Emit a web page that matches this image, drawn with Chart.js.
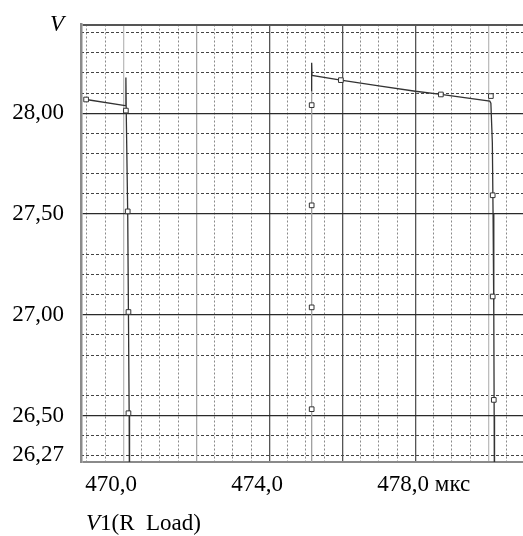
<!DOCTYPE html>
<html><head><meta charset="utf-8">
<script src="https://cdn.jsdelivr.net/npm/chart.js@4/dist/chart.umd.min.js"></script>
<style>html,body{margin:0;padding:0;background:#fff;overflow:hidden}canvas{display:block}</style>
</head><body>
<canvas id="c" width="523" height="536"></canvas>
<script>
// ---- data ----
const xMin = 468.84, xMax = 480.95;
const yMin = 26.27, yMax = 28.44;

const traceAX = [468.98, 470.05, 470.07, 470.08, 470.12, 470.14, 470.16, 470.17];
const traceAY = [28.068, 28.038, 28.177, 28.0, 27.5, 27.0, 26.5, 25.9];

const traceBX = [475.16, 475.16, 475.16, 475.17, 475.96, 477.0, 478.0, 478.70, 480.04, 480.07, 480.11, 480.13, 480.15, 480.16, 480.17];
const traceBY = [25.9, 28.108, 28.25, 28.187, 28.164, 28.136, 28.109, 28.093, 28.06, 28.05, 27.854, 27.5, 27.0, 26.5, 25.9];

const markerX = [468.98, 470.07, 470.12, 470.14, 470.14, 475.16, 475.16, 475.16, 475.16, 475.96, 478.70, 480.07, 480.12, 480.12, 480.15];
const markerY = [28.068, 28.013, 27.513, 27.014, 26.512, 28.040, 27.543, 27.037, 26.532, 28.164, 28.093, 28.085, 27.593, 27.091, 26.578];

const xMajorTicks = [470, 472, 474, 476, 478, 480];
const xMinorTicks = [469, 469.5, 470.5, 471, 471.5, 472.5, 473, 473.5, 474.5, 475, 475.5, 476.5, 477, 477.5, 478.5, 479, 479.5, 480.5];
const xLabelValues = [470, 474, 478];
const xLabelTexts = ['470,0', '474,0', '478,0 мкс'];

const yMajorTicks = [26.27, 26.5, 27.0, 27.5, 28.0, 28.44];
const yLabelTexts = ['26,27', '26,50', '27,00', '27,50', '28,00', ''];
const yMinorTicks = [26.3, 26.4, 26.6, 26.8, 26.9, 27.1, 27.2, 27.3, 27.6, 27.7, 27.8, 27.9, 28.1, 28.2, 28.3, 28.4];

const yTitle = 'V';
const seriesName = ['V', '1(R  Load)'];

// ---- helpers ----
const pts = (xs, ys) => xs.map((x, i) => ({x: x, y: ys[i]}));
const setTicks = arr => axis => { axis.ticks = arr.map(v => ({value: v})); };
const noPad = s => { s.paddingLeft = 0; s.paddingRight = 0; s.paddingTop = 0; s.paddingBottom = 0; };
const FONT = '"Liberation Serif", "Times New Roman", serif';

const textPlugin = {
  id: 'texts',
  afterDraw(chart) {
    const c = chart.ctx;
    c.save();
    c.fillStyle = '#000';
    c.textAlign = 'left';
    c.textBaseline = 'alphabetic';
    c.font = 'italic 23px ' + FONT;
    c.fillText(yTitle, 50, 31);
    c.fillText(seriesName[0], 86, 530);
    const w = c.measureText(seriesName[0]).width;
    c.font = '23px ' + FONT;
    c.fillText(seriesName[1], 86 + w, 530);
    c.restore();
  }
};

new Chart(document.getElementById('c'), {
  type: 'scatter',
  data: {
    datasets: [
      {
        data: pts(markerX, markerY),
        showLine: false,
        pointStyle: 'rect',
        pointRadius: 3.3,
        pointBorderWidth: 1,
        pointBorderColor: '#333',
        pointBackgroundColor: '#fff'
      },
      {
        data: pts(traceAX, traceAY),
        showLine: true,
        borderColor: '#333',
        borderWidth: 1.3,
        pointRadius: 0,
        tension: 0
      },
      {
        data: pts(traceBX, traceBY),
        showLine: true,
        borderColor: '#333',
        borderWidth: 1.3,
        pointRadius: 0,
        tension: 0,
        segment: { borderColor: ctx => ctx.p0DataIndex === 0 ? '#a0a0a0' : undefined }
      }
    ]
  },
  options: {
    responsive: false,
    devicePixelRatio: 1,
    animation: false,
    events: [],
    layout: { autoPadding: false, padding: { top: 24.5, left: 0, right: 0, bottom: 0 } },
    plugins: { legend: { display: false }, tooltip: { enabled: false } },
    scales: {
      x: {
        type: 'linear', position: 'bottom', min: xMin, max: xMax,
        afterBuildTicks: setTicks(xMinorTicks),
        afterFit: s => { s.height = 0; noPad(s); },
        ticks: { display: false, autoSkip: false },
        grid: { color: '#8a8a8a', lineWidth: 1, drawTicks: false },
        border: { display: false, dash: [2, 2] }
      },
      y: {
        type: 'linear', position: 'left', min: yMin, max: yMax,
        afterBuildTicks: setTicks(yMinorTicks),
        afterFit: s => { s.width = 0; noPad(s); },
        ticks: { display: false, autoSkip: false },
        grid: { color: '#444', lineWidth: 1, drawTicks: false },
        border: { display: false, dash: [3, 2] }
      },
      x2: {
        type: 'linear', position: 'bottom', min: xMin, max: xMax,
        afterBuildTicks: setTicks(xMajorTicks),
        afterFit: s => { s.height = 74; noPad(s); },
        ticks: {
          autoSkip: false, maxRotation: 0, minRotation: 0,
          align: 'start', labelOffset: -38, padding: 9, color: '#000',
          font: { family: FONT, size: 23 },
          callback: v => { const i = xLabelValues.indexOf(v); return i >= 0 ? xLabelTexts[i] : ''; }
        },
        grid: {
          drawTicks: false,
          lineWidth: 1.3,
          color: ctx => (ctx.tick && (ctx.tick.value === 470 || ctx.tick.value === 480)) ? '#bdbdbd' :
                        (ctx.tick && ctx.tick.value === 472) ? '#a8a8a8' : '#555'
        },
        border: { display: false }
      },
      y2: {
        type: 'linear', position: 'left', min: yMin, max: yMax,
        afterBuildTicks: setTicks(yMajorTicks),
        afterFit: s => { s.width = 81; noPad(s); },
        ticks: {
          autoSkip: false, padding: 17, color: '#000',
          font: ctx => ({ family: FONT, size: 23, lineHeight: ctx.index === 0 ? 14 / 23 : 1.2 }),
          callback: (v, i) => i === 0 ? [yLabelTexts[i], ''] : yLabelTexts[i]
        },
        grid: {
          drawTicks: false,
          lineWidth: ctx => (ctx.index === 0 || ctx.index === yMajorTicks.length - 1) ? 2 : 1.3,
          color: ctx => ctx.index === 0 ? '#8a8a8a' : (ctx.index === yMajorTicks.length - 1 ? '#555' : '#2a2a2a')
        },
        border: { display: true, color: '#8a8a8a', width: 2.5 }
      }
    }
  },
  plugins: [textPlugin]
});
</script>
</body></html>
